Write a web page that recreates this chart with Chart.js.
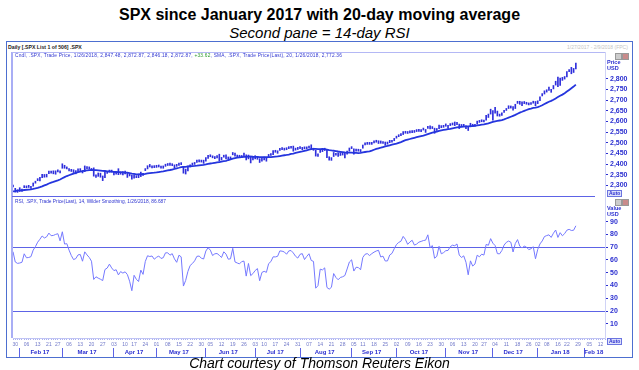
<!DOCTYPE html>
<html>
<head>
<meta charset="utf-8">
<script src="https://cdn.jsdelivr.net/npm/chart.js@4.4.1/dist/chart.umd.min.js"></script>
<style>
  body { margin:0; width:639px; height:370px; background:#fff; position:relative; overflow:hidden;
         font-family:'Liberation Sans', Arial, sans-serif; }
  .abs { position:absolute; white-space:nowrap; }
  #title { left:0; width:639px; top:6px; text-align:center; font-weight:bold; font-size:16px; color:#000; }
  #subtitle { left:0; width:639px; top:24px; text-align:center; font-style:italic; font-size:15px; color:#000; }
  #caption { left:0; width:639px; top:355px; text-align:center; font-style:italic; font-size:14px; color:#000; }
  #frame { left:6px; top:41px; width:625px; height:315px; border:1px solid #4d6fd0; }
  #hdr { left:8px; top:44px; font-size:5.2px; font-weight:bold; color:#222; }
  #range { left:567px; top:44px; font-size:5px; color:#c4c4c4; }
  .leg { font-size:4.8px; color:#2f35d0; }
  .axl { font-size:5.5px; font-weight:bold; color:#2b2fd0; line-height:6px; }
  .auto { font-size:5px; font-weight:bold; color:#2b2fd0; border:1px solid #6b74e0; padding:0 1px; line-height:5px; background:#dfe2fb; }
  .ico { width:5px; height:5px; border:1px solid #999; background:#ccc; }
  canvas { position:absolute; left:0; top:0; }
</style>
</head>
<body>
<div id="title" class="abs">SPX since January 2017 with 20-day moving average</div>
<div id="subtitle" class="abs">Second pane = 14-day RSI</div>
<div id="frame" class="abs"></div>
<div id="hdr" class="abs">Daily [.SPX List 1 of 506] .SPX</div>
<div id="range" class="abs">1/27/2017 - 2/9/2018 (FPC)</div>
<canvas id="myChart" width="639" height="370"></canvas>
<div class="abs" style="left:11px;top:52px;width:2px;height:286px;background:#a9aef5"></div>
<div class="abs" style="left:12px;top:52px;width:593px;height:1px;background:#b4b8f5"></div>
<div class="abs" style="left:12px;top:196px;width:583px;height:1px;background:#5d63e6"></div>
<div class="abs leg" style="left:15px;top:53px;letter-spacing:0.22px">Cndl, .SPX, Trade Price, 1/26/2018, 2,847.48, 2,872.87, 2,846.18, 2,872.87, <span style="color:#2a9a2a">+33.62</span>, SMA, .SPX, Trade Price(Last), 20, 1/26/2018, 2,772.36</div>
<div class="abs leg" style="left:15px;top:199px">RSI, .SPX, Trade Price(Last), 14, Wilder Smoothing, 1/26/2018, 86.687</div>
<div class="abs axl" style="left:607px;top:59px">Price<br>USD</div>
<div class="abs axl" style="left:607px;top:205px">Value<br>USD</div>
<div class="abs auto" style="left:607px;top:190px">Auto</div>
<div class="abs auto" style="left:607px;top:338px">Auto</div>
<div class="abs ico" style="left:615px;top:53px"></div>
<div class="abs ico" style="left:622px;top:53px;background:#c98b8b"></div>
<div class="abs ico" style="left:615px;top:199px"></div>
<div class="abs ico" style="left:622px;top:199px;background:#c98b8b"></div>
<div id="caption" class="abs">Chart courtesy of Thomson Reuters Eikon</div>
<script>
// trading days shown on the axis, month by month (Jan 27 2017 .. Feb 14 2018)
const monthKeys = ['2017-01','2017-02','2017-03','2017-04','2017-05','2017-06','2017-07',
  '2017-08','2017-09','2017-10','2017-11','2017-12','2018-01','2018-02'];
const monthNames = ['', 'Feb 17','Mar 17','Apr 17','May 17','Jun 17','Jul 17',
  'Aug 17','Sep 17','Oct 17','Nov 17','Dec 17','Jan 18','Feb 18'];
const monthDays = [
  [27,30,31],
  [1,2,3,6,7,8,9,10,13,14,15,16,17,21,22,23,24,27,28],
  [1,2,3,6,7,8,9,10,13,14,15,16,17,20,21,22,23,24,27,28,29,30,31],
  [3,4,5,6,7,10,11,12,13,17,18,19,20,21,24,25,26,27,28],
  [1,2,3,4,5,8,9,10,11,12,15,16,17,18,19,22,23,24,25,26,30,31],
  [1,2,5,6,7,8,9,12,13,14,15,16,19,20,21,22,23,26,27,28,29,30],
  [3,5,6,7,10,11,12,13,14,17,18,19,20,21,24,25,26,27,28,31],
  [1,2,3,4,7,8,9,10,11,14,15,16,17,18,21,22,23,24,25,28,29,30,31],
  [1,5,6,7,8,11,12,13,14,15,18,19,20,21,22,25,26,27,28,29],
  [2,3,4,5,6,9,10,11,12,13,16,17,18,19,20,23,24,25,26,27,30,31],
  [1,2,3,6,7,8,9,10,13,14,15,16,17,20,21,22,24,27,28,29,30],
  [1,4,5,6,7,8,11,12,13,14,15,18,19,20,21,22,26,27,28,29],
  [2,3,4,5,8,9,10,11,12,16,17,18,19,22,23,24,25,26,29,30,31],
  [1,2,5,6,7,8,9,12,13,14]
];

// closes before the window, only used to start the SMA and RSI (Dec 1 2016 .. Jan 26 2017)
const priorCloses = [
  2191.08,2191.95,2204.71,2212.23,2241.35,2246.19,2259.53,2256.96,2271.72,2253.28,2262.03,
  2258.07,2262.53,2270.76,2265.18,2260.96,2263.79,2268.88,2249.92,2249.26,2238.83,
  2257.83,2270.75,2269.00,2276.98,2268.90,2268.90,2275.32,2270.44,2274.64,2267.89,2271.89,
  2263.69,2271.31,2265.20,2280.07,2298.37,2296.68
];

const closes = [
  2294.69,2280.90,2278.87,
  2279.55,2280.85,2297.42,2292.56,2293.08,2294.67,2307.87,2316.10,2328.25,2337.58,2349.25,2347.22,2351.16,2365.38,2362.82,2363.81,2367.34,2369.75,2363.64,
  2395.96,2381.92,2383.12,2375.31,2368.39,2362.98,2364.87,2372.60,2373.47,2365.45,2385.26,2381.38,2378.25,2373.47,2344.02,2348.45,2345.96,2343.98,2341.59,2358.57,2361.13,2368.06,2362.72,
  2358.84,2360.16,2352.95,2357.49,2355.54,2357.16,2353.78,2344.93,2328.95,2349.01,2342.19,2338.17,2355.84,2348.69,2374.15,2388.61,2387.45,2388.77,2384.20,
  2388.33,2391.17,2388.13,2389.52,2399.29,2399.38,2396.92,2399.63,2394.44,2390.90,2402.32,2400.67,2357.03,2365.72,2381.73,2394.02,2398.42,2404.39,2415.07,2415.82,2412.91,2411.80,
  2430.06,2439.07,2436.10,2429.33,2433.14,2433.79,2431.77,2429.39,2440.35,2437.92,2432.46,2433.15,2453.46,2437.03,2435.61,2434.50,2438.30,2439.07,2419.38,2440.69,2419.70,2423.41,
  2429.01,2432.54,2409.75,2425.18,2427.43,2425.53,2443.25,2447.83,2459.27,2459.14,2460.61,2473.83,2473.45,2472.54,2469.91,2477.13,2477.83,2475.42,2472.10,2470.30,
  2476.35,2477.57,2472.16,2476.83,2480.91,2474.92,2474.02,2438.21,2441.32,2465.84,2464.61,2468.11,2430.01,2425.55,2428.37,2452.51,2444.04,2438.97,2443.05,2444.24,2446.30,2457.59,2471.65,
  2476.55,2457.85,2465.54,2465.10,2461.43,2488.11,2496.48,2498.37,2495.62,2500.23,2503.87,2506.65,2508.24,2500.60,2502.22,2496.66,2496.84,2507.04,2510.06,2519.36,
  2529.12,2534.58,2537.74,2552.07,2549.33,2544.73,2550.64,2555.24,2550.93,2553.17,2557.64,2559.36,2561.26,2562.10,2575.21,2564.98,2569.13,2557.15,2560.40,2581.07,2572.83,2575.26,
  2579.36,2579.85,2587.84,2591.13,2590.64,2594.38,2584.62,2582.30,2584.84,2578.87,2564.62,2585.64,2578.85,2582.14,2599.03,2597.08,2602.42,2601.42,2627.04,2626.07,2647.58,
  2642.22,2639.44,2629.57,2629.27,2636.98,2651.50,2659.99,2664.11,2662.85,2652.01,2675.81,2690.16,2681.47,2679.25,2684.57,2683.34,2680.50,2682.62,2687.54,2673.61,
  2695.81,2713.06,2723.99,2743.15,2747.71,2751.29,2748.23,2767.56,2786.24,2776.42,2802.56,2798.03,2810.30,2832.97,2839.13,2837.54,2839.25,2872.87
];

const lows = [
  2292,2268,2267,
  2271,2271,2289,2288,2290,2285,2296,2310,2322,2321,2336,2338,2339,2355,2357,2354,2352,2363,2358,
  2380,2380,2377,2368,2365,2360,2354,2364,2369,2358,2364,2378,2377,2370,2343,2337,2342,2338,2322,2336,2356,2362,2362,
  2349,2352,2350,2352,2349,2353,2337,2344,2329,2333,2336,2336,2341,2346,2369,2377,2386,2382,2383,
  2384,2386,2380,2380,2389,2393,2393,2392,2382,2389,2393,2397,2357,2353,2368,2386,2395,2398,2407,2410,2409,2403,
  2413,2426,2434,2429,2425,2428,2415,2419,2432,2424,2422,2424,2443,2437,2431,2431,2430,2437,2419,2424,2405,2419,
  2424,2422,2407,2413,2419,2413,2435,2440,2444,2455,2450,2464,2467,2465,2467,2472,2474,2460,2465,2468,
  2472,2467,2471,2471,2475,2468,2464,2437,2436,2454,2458,2463,2430,2418,2417,2435,2441,2436,2440,2442,2429,2446,2460,
  2472,2446,2460,2460,2458,2474,2490,2492,2492,2492,2499,2502,2496,2497,2496,2488,2493,2500,2502,2509,
  2521,2528,2533,2538,2544,2543,2546,2547,2548,2552,2553,2552,2559,2548,2567,2564,2566,2544,2557,2566,2570,2572,
  2577,2567,2580,2583,2580,2584,2566,2576,2575,2566,2557,2574,2577,2577,2587,2595,2598,2597,2606,2618,2634,
  2605,2638,2625,2624,2628,2642,2651,2660,2662,2652,2660,2684,2680,2674,2683,2680,2677,2679,2685,2673,
  2683,2697,2719,2728,2737,2745,2736,2752,2770,2763,2768,2792,2798,2808,2833,2823,2829,2846
];

const highs = [
  2299,2286,2279,
  2289,2283,2298,2296,2300,2295,2311,2319,2331,2338,2351,2351,2352,2367,2365,2368,2368,2371,2368,
  2401,2394,2386,2379,2375,2373,2369,2377,2375,2369,2391,2388,2385,2379,2382,2349,2358,2357,2344,2363,2363,2370,2371,
  2366,2361,2378,2362,2365,2367,2356,2352,2348,2349,2345,2353,2362,2356,2376,2392,2398,2392,2392,
  2394,2392,2390,2391,2399,2402,2404,2400,2396,2395,2404,2405,2389,2376,2390,2396,2400,2406,2418,2416,2415,2418,
  2430,2441,2440,2437,2435,2439,2446,2431,2441,2443,2433,2433,2454,2451,2442,2441,2440,2451,2443,2442,2437,2431,
  2439,2435,2425,2427,2432,2429,2445,2449,2463,2463,2462,2474,2477,2473,2474,2479,2482,2484,2474,2478,
  2478,2478,2476,2480,2481,2490,2474,2465,2448,2469,2468,2474,2465,2434,2430,2454,2448,2452,2453,2450,2450,2460,2475,
  2480,2471,2469,2469,2468,2489,2497,2498,2498,2501,2508,2508,2509,2508,2503,2503,2503,2511,2510,2520,
  2530,2535,2541,2552,2552,2552,2555,2556,2556,2558,2558,2560,2563,2562,2575,2579,2572,2568,2565,2582,2580,2579,
  2588,2581,2588,2592,2597,2595,2587,2584,2586,2579,2572,2591,2584,2584,2601,2600,2605,2605,2628,2634,2657,
  2650,2666,2648,2634,2640,2652,2660,2673,2672,2669,2680,2694,2694,2692,2693,2686,2683,2686,2688,2693,
  2696,2715,2730,2743,2748,2760,2750,2768,2788,2808,2803,2806,2810,2833,2842,2853,2848,2873
];

const priceTicks = [2300,2350,2400,2450,2500,2550,2600,2650,2700,2750,2800];
const rsiTicks = [10,20,30,40,50,60,70,80,90];
const rsiBands = [70, 20];

const blue = '#2b2fd0';
const fam = "'Liberation Sans', Arial, sans-serif";

// axis categories
let dateLabels = [];
let monthStart = {};
let monthMid = {};
for (let m = 0; m < monthKeys.length; m++) {
  let start = dateLabels.length;
  monthDays[m].forEach(d => dateLabels.push(monthKeys[m] + '-' + String(d).padStart(2, '0')));
  if (m > 0) monthStart[start] = true;
  monthMid[start + Math.floor((monthDays[m].length - 1) / 2)] = monthNames[m];
}

function dayLabel(i) {
  if (i == 0) return '';
  let a = new Date(dateLabels[i] + 'T12:00:00Z'), b = new Date(dateLabels[i-1] + 'T12:00:00Z');
  if (a.getUTCDay() <= b.getUTCDay()) return dateLabels[i].slice(8);
  return '';
}

// 20-day simple moving average and 14-day Wilder RSI of the closes
let all = priorCloses.concat(closes);
let off = priorCloses.length;
let sma20 = closes.map((c, i) => {
  let s = 0;
  for (let j = off + i - 19; j <= off + i; j++) s += all[j];
  return s / 20;
});
let rsiAll = [];
let g = 0, l = 0;
for (let i = 1; i < all.length; i++) {
  let d = all[i] - all[i-1];
  let up = Math.max(d, 0), dn = Math.max(-d, 0);
  if (i <= 14) { g += up / 14; l += dn / 14; }
  else { g = (g * 13 + up) / 14; l = (l * 13 + dn) / 14; }
  rsiAll[i] = 100 - 100 / (1 + g / l);
}
let rsi14 = rsiAll.slice(off);

let candles = [];
for (let i = 0; i < closes.length; i++) candles.push([lows[i], highs[i]]);

const ctx = document.getElementById('myChart');
let myChart = new Chart(ctx, {
  type: 'bar',
  data: {
    labels: dateLabels,
    datasets: [
      { type: 'line', data: sma20, borderColor: '#2535de', borderWidth: 1.8, pointRadius: 0,
        xAxisID: 'x', yAxisID: 'yPrice', order: 1 },
      { type: 'bar', data: candles, backgroundColor: '#2f2fdc', barThickness: 1, minBarLength: 2,
        xAxisID: 'x', yAxisID: 'yPrice', order: 2 },
      { type: 'line', data: rsi14, borderColor: '#7579ff', borderWidth: 1, pointRadius: 0,
        xAxisID: 'x', yAxisID: 'yRsi', order: 3 }
    ]
  },
  options: {
    responsive: false,
    animation: false,
    layout: { padding: { left: 13, top: 52, right: 0, bottom: 13 } },
    plugins: { legend: { display: false }, tooltip: { enabled: false } },
    scales: {
      x: {
        type: 'category', position: 'bottom', offset: false,
        grid: { drawOnChartArea: false, offset: false, tickLength: 2, color: '#aab0f0' },
        border: { color: '#c0c4f4', dash: [2, 2] },
        ticks: { autoSkip: false, maxRotation: 0, padding: 2, color: '#7078c8',
                 font: { size: 5, family: fam }, callback: (v, i) => dayLabel(i) },
        afterFit: s => { s.height = 10; }
      },
      xMonth: {
        type: 'category', labels: dateLabels, position: 'bottom', offset: false,
        grid: { drawOnChartArea: false, offset: false, tickLength: 9,
                color: c => monthStart[c.index] ? '#5d63e6' : 'rgba(0,0,0,0)' },
        border: { display: false },
        ticks: { autoSkip: false, maxRotation: 0, padding: -8, color: blue,
                 font: { size: 6, weight: 'bold', family: fam },
                 callback: (v, i) => monthMid[i] || '' },
        afterFit: s => { s.height = 9; }
      },
      yPrice: {
        type: 'linear', position: 'right', stack: 'panes', stackWeight: 144,
        min: 2250, max: 2925,
        afterBuildTicks: s => { s.ticks = priceTicks.map(v => ({ value: v })); },
        grid: { drawOnChartArea: false, tickLength: 3, color: blue },
        border: { color: '#d0d3f6' },
        ticks: { autoSkip: false, padding: 2, color: blue, font: { size: 7, weight: 'bold', family: fam },
                 callback: v => v.toLocaleString('en-US') },
        afterFit: s => { s.width = 34; s.paddingTop = 0; s.paddingBottom = 0; }
      },
      yRsi: {
        type: 'linear', position: 'right', stack: 'panes', stackWeight: 142,
        min: -1, max: 110,
        afterBuildTicks: s => { s.ticks = rsiTicks.map(v => ({ value: v })); },
        grid: { drawOnChartArea: true, tickLength: 3, tickColor: blue,
                color: c => (c.tick && rsiBands.includes(c.tick.value)) ? '#5d63e6' : 'rgba(0,0,0,0)' },
        border: { color: '#d0d3f6' },
        ticks: { autoSkip: false, padding: 2, color: blue, font: { size: 7, weight: 'bold', family: fam } },
        afterFit: s => { s.width = 34; s.paddingTop = 0; s.paddingBottom = 0; }
      }
    }
  }
});
</script>
</body>
</html>
